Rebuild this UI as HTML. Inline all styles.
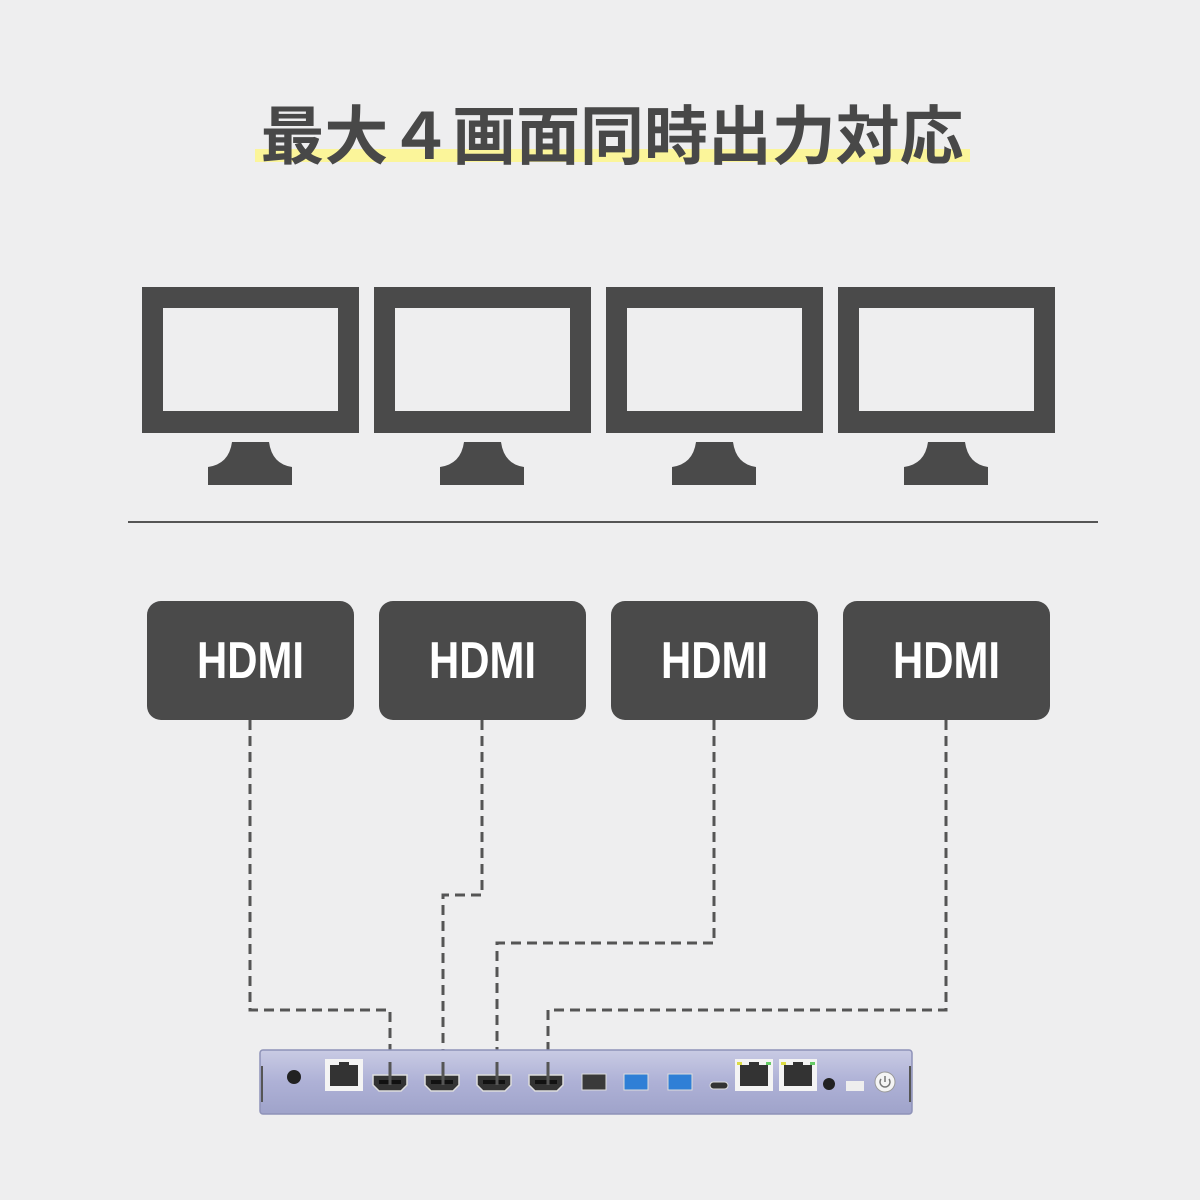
<!DOCTYPE html>
<html><head><meta charset="utf-8"><style>
html,body{margin:0;padding:0;background:#eeeeef;}
svg{display:block}
</style></head><body>
<svg width="1200" height="1200" viewBox="0 0 1200 1200" xmlns="http://www.w3.org/2000/svg">
<defs>
<linearGradient id="dev" x1="0" y1="0" x2="0" y2="1">
<stop offset="0" stop-color="#c9cbe4"/><stop offset="0.5" stop-color="#aeb1d6"/><stop offset="1" stop-color="#9fa3ca"/>
</linearGradient>
<g id="mon">
<path fill="#4a4a4a" fill-rule="evenodd" d="M0 0H217V146H0Z M21 21V124H196V21Z"/>
<path fill="#4a4a4a" d="M90 155H127Q130 177 150 180H150V198H66V180Q87 177 90 155Z"/>
</g>
<g id="hd">
<rect x="0" y="0" width="207" height="119" rx="14" fill="#4a4a4a"/>
<text x="103.5" y="77" text-anchor="middle" font-family="'Liberation Sans Narrow','Liberation Sans',sans-serif" font-weight="bold" font-size="52" fill="#fff" textLength="107" lengthAdjust="spacingAndGlyphs">HDMI</text>
</g>
<g id="hp"><path d="M0 0H34V10L28 16H6L0 10Z" fill="#333" stroke="#ddd" stroke-width="1.5"/><rect x="6" y="5" width="22" height="4" fill="#111"/></g>
<g id="rj"><rect x="0" y="0" width="38" height="32" fill="#f4f4f4"/><path d="M5 6H33V27H5Z" fill="#333"/><rect x="14" y="3" width="10" height="4" fill="#333"/></g>
</defs>
<rect x="255" y="149" width="715" height="13" fill="#fbf59a"/>
<text x="612" y="159" text-anchor="middle" font-family="'Noto Sans CJK JP',sans-serif" font-weight="bold" font-size="64" fill="#484848" textLength="703" lengthAdjust="spacingAndGlyphs">最大４画面同時出力対応</text>
<use href="#mon" x="142" y="287"/>
<use href="#mon" x="374" y="287"/>
<use href="#mon" x="606" y="287"/>
<use href="#mon" x="838" y="287"/>
<line x1="128" y1="522" x2="1098" y2="522" stroke="#555" stroke-width="2"/>
<use href="#hd" x="147" y="601"/>
<use href="#hd" x="379" y="601"/>
<use href="#hd" x="611" y="601"/>
<use href="#hd" x="843" y="601"/>
<g fill="none" stroke="#555" stroke-width="3" stroke-dasharray="10 6">
<path d="M250 720V1010H390V1072"/>
<path d="M482 720V895H443V1072"/>
<path d="M714 720V943H497V1072"/>
<path d="M946 720V1010H548V1072"/>
</g>
<rect x="260" y="1050" width="652" height="64" rx="3" fill="url(#dev)" stroke="#8e92b8" stroke-width="1.5"/>
<line x1="262" y1="1066" x2="262" y2="1102" stroke="#555" stroke-width="2"/>
<line x1="910" y1="1066" x2="910" y2="1102" stroke="#555" stroke-width="2"/>
<circle cx="294" cy="1077" r="7" fill="#222"/>
<use href="#rj" x="325" y="1059"/>
<use href="#hp" x="373" y="1075"/>
<use href="#hp" x="425" y="1075"/>
<use href="#hp" x="477" y="1075"/>
<use href="#hp" x="529" y="1075"/>
<rect x="514" y="1063" width="0" height="0"/>
<rect x="3" y="0" width="0" height="0"/>
<g fill="none" stroke="#555" stroke-width="3">
<path d="M390 1062V1085M443 1062V1085M497 1062V1085M548 1062V1085"/>
</g>
<rect x="514" y="1076" width="0" height="0"/>
<rect x="513" y="1075" width="0" height="0"/>
<rect x="514" y="1075" width="0" height="0"/>
<rect x="514" y="1075" width="0" height="0"/>
<rect x="514" y="1075" width="0" height="0"/>
<rect x="514" y="1075" width="0" height="0"/>
<rect x="513" y="1075" width="0" height="0"/>
<rect x="513" y="1075" width="0" height="0"/>
<rect x="513" y="1075" width="0" height="0"/>
<rect x="513" y="1075" width="0" height="0"/>
<rect x="513" y="1075" width="0" height="0"/>
<rect x="513" y="1075" width="0" height="0"/>
<rect x="513" y="1075" width="0" height="0"/>
<rect x="513" y="1075" width="0" height="0"/>
<rect x="582" y="1074" width="24" height="16" fill="#3a3a3a" stroke="#ddd"/>
<rect x="624" y="1074" width="24" height="16" fill="#2f7fd6" stroke="#ddd"/>
<rect x="668" y="1074" width="24" height="16" fill="#2f7fd6" stroke="#ddd"/>
<rect x="710" y="1082" width="18" height="7" rx="3.5" fill="#333" stroke="#ddd"/>
<use href="#rj" x="735" y="1059"/>
<use href="#rj" x="779" y="1059"/>
<rect x="737" y="1062" width="5" height="3" fill="#dd4"/><rect x="766" y="1062" width="5" height="3" fill="#6c6"/>
<rect x="781" y="1062" width="5" height="3" fill="#dd4"/><rect x="810" y="1062" width="5" height="3" fill="#6c6"/>
<circle cx="829" cy="1084" r="6" fill="#222"/>
<rect x="846" y="1081" width="18" height="10" fill="#eee"/>
<circle cx="885" cy="1082" r="10" fill="#f4f4f4" stroke="#999"/>
<path d="M881 1079A5 5 0 1 0 889 1079M885 1076V1082" fill="none" stroke="#777" stroke-width="1.5"/>
</svg>
</body></html>
